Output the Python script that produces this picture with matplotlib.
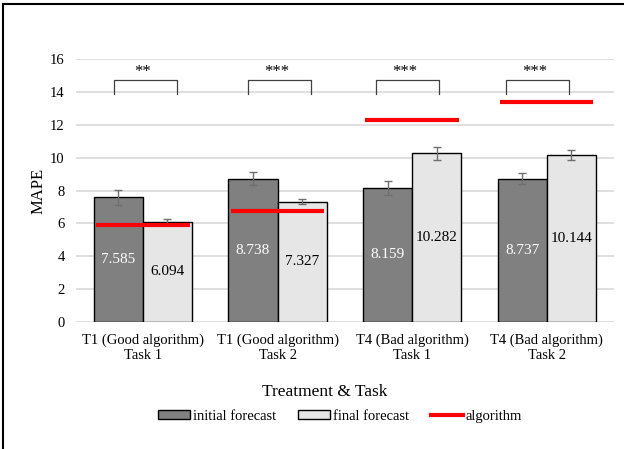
import numpy as np
import matplotlib
matplotlib.use("Agg")
import matplotlib.pyplot as plt
from matplotlib.patches import Patch
from matplotlib.lines import Line2D

plt.rcParams['font.family'] = ['Liberation Serif', 'DejaVu Serif']

# data
categories = ["T1 (Good algorithm)\nTask 1", "T1 (Good algorithm)\nTask 2",
              "T4 (Bad algorithm)\nTask 1", "T4 (Bad algorithm)\nTask 2"]
initial = [7.585, 8.738, 8.159, 8.737]
final = [6.094, 7.327, 10.282, 10.144]
initial_err = [0.48, 0.42, 0.43, 0.31]
final_err = [0.15, 0.15, 0.40, 0.30]
algorithm = [5.90, 6.77, 12.33, 13.37]
stars = ["**", "***", "***", "***"]
bracket_center = [0.02, 0.015, -0.036, -0.07]  # offset from group centre

fig = plt.figure(figsize=(6.24, 4.49), dpi=100)
ax = fig.add_axes([0.1212, 0.2829, 0.8628, 0.5851])

x = np.arange(len(categories))
w = 0.365

ax.bar(x - w/2, initial, w, color="#808080", edgecolor="black", linewidth=1, zorder=2)
ax.bar(x + w/2, final, w, color="#E7E6E6", edgecolor="black", linewidth=1, zorder=2)
ax.errorbar(x - w/2, initial, yerr=initial_err, fmt="none", ecolor="#6f6f6f",
            elinewidth=1, capsize=3, zorder=3)
ax.errorbar(x + w/2, final, yerr=final_err, fmt="none", ecolor="#6f6f6f",
            elinewidth=1, capsize=3, zorder=3)

# value labels in the middle of each bar
for i in range(len(x)):
    ax.text(x[i] - w/2, initial[i]/2, f"{initial[i]:.3f}", ha="center", va="center",
            color="white", fontsize=11, zorder=4)
    ax.text(x[i] + w/2, final[i]/2, f"{final[i]:.3f}", ha="center", va="center",
            color="black", fontsize=11, zorder=4)

# algorithm lines
for i in range(len(x)):
    ax.plot([x[i] - 0.347, x[i] + 0.347], [algorithm[i], algorithm[i]],
            color="#FF0000", linewidth=3, solid_capstyle="butt", zorder=5)

# significance brackets
for i in range(len(x)):
    c = x[i] + bracket_center[i]
    ax.plot([c - 0.233, c - 0.233, c + 0.233, c + 0.233], [13.86, 14.75, 14.75, 13.86],
            color="#404040", linewidth=0.9, zorder=5)
    ax.text(c - 0.02, 15.25, stars[i], ha="center", va="center", fontsize=12)

ax.set_xlim(-0.5, 3.5)
ax.set_ylim(0, 16)
ax.set_yticks(np.arange(0, 17, 2))
ax.set_xticks(x)
ax.set_xticklabels(categories, fontsize=10.5, linespacing=1.25)
ax.tick_params(axis="y", labelsize=10.5, length=0, pad=8)
ax.tick_params(axis="x", length=0, pad=8)
ax.yaxis.grid(True, color="#D9D9D9", linewidth=1.2)
ax.set_axisbelow(True)
for s in ax.spines.values():
    s.set_visible(False)

ax.set_ylabel("MAPE", fontsize=12)
ax.yaxis.set_label_coords(-0.055, 0.5)
ax.set_xlabel("Treatment & Task", fontsize=12.5)
ax.xaxis.set_label_coords(0.462, -0.235)

handles = [Patch(facecolor="#808080", edgecolor="black", label="initial forecast"),
           Patch(facecolor="#E7E6E6", edgecolor="black", label="final forecast"),
           Line2D([0], [0], color="#FF0000", linewidth=3, label="algorithm")]
fig.legend(handles=handles, loc="center", bbox_to_anchor=(0.545, 0.073), ncol=3,
           frameon=False, fontsize=10.5, handlelength=2.2, handleheight=0.55,
           handletextpad=0.2, columnspacing=1.5)

# outer border (left and top only)
fig.add_artist(Line2D([0.005, 0.005], [0, 0.99], color="black", linewidth=1.5,
                      transform=fig.transFigure))
fig.add_artist(Line2D([0.005, 1.0], [0.99, 0.99], color="black", linewidth=1.5,
                      transform=fig.transFigure))

fig.savefig("out.png", dpi=100)
